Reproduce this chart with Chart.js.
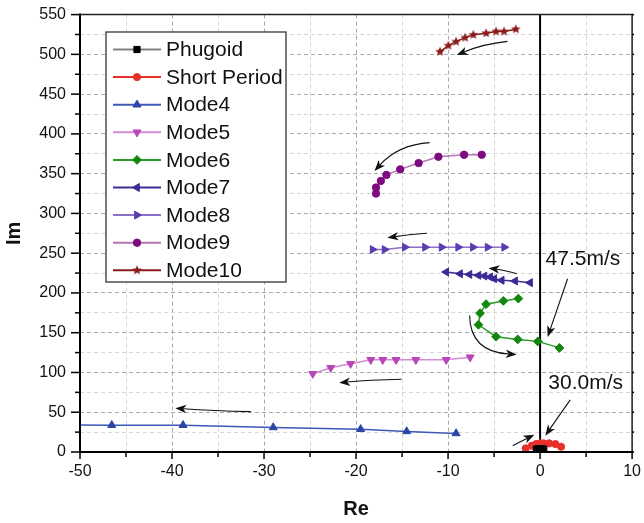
<!DOCTYPE html>
<html><head><meta charset="utf-8">
<script src="https://cdn.jsdelivr.net/npm/chart.js@4.4.1/dist/chart.umd.min.js"></script>
<style>html,body{margin:0;padding:0;background:#fff}canvas{display:block}</style>
</head><body>
<canvas id="c" width="644" height="523"></canvas>
<script>
// ---------- data ----------
const seriesLabels = ['Phugoid','Short Period','Mode4','Mode5','Mode6','Mode7','Mode8','Mode9','Mode10'];
const xTicks = [-50,-40,-30,-20,-10,0,10];
const yTicks = [0,50,100,150,200,250,300,350,400,450,500,550];

const phugoidRe = [-0.4,-0.2,0,0.2,0.4];
const phugoidIm = [3.5,4,4,4,3.5];
const shortRe = [-1.56,-0.9,-0.43,0,0.36,0.98,1.67,2.28];
const shortIm = [4.6,7.9,10,10.9,10.9,10.9,10,6.6];
const mode4Re = [-56,-46.55,-38.8,-29,-19.5,-14.5,-9.13];
const mode4Im = [34,33.75,33.75,30.9,28.75,25.9,23.4];
const mode5Re = [-24.7,-22.75,-20.6,-18.4,-17.1,-15.65,-13.5,-10.2,-7.6];
const mode5Im = [98.4,105.9,110.9,115.9,115.9,115.9,115.9,115.9,119.1];
const mode6Re = [-2.36,-3.99,-5.87,-6.52,-6.7,-4.78,-2.43,-0.25,2.1];
const mode6Im = [192.9,190,185.9,174.6,160,145,141.6,139.1,130.9];
const mode7Re = [-10.2,-8.7,-7.68,-6.7,-6.05,-5.43,-4.97,-4.17,-2.72,-1.09];
const mode7Im = [226.25,224.1,223.3,222.1,221.25,220,217.9,215.9,215,212.9];
const mode8Re = [-18.2,-16.9,-14.7,-12.5,-10.7,-8.9,-7.3,-5.7,-3.9];
const mode8Im = [254.6,254.6,257.5,257.5,257.5,257.5,257.5,257.5,257.5];
const mode9Re = [-17.83,-17.83,-17.3,-16.7,-15.2,-13.2,-11.05,-8.26,-6.34];
const mode9Im = [325,332.5,340.9,348.4,355.4,363.3,371.25,373.75,373.75];
const mode10Re = [-10.87,-9.97,-9.13,-8.15,-7.25,-5.87,-4.78,-3.91,-2.64];
const mode10Im = [503.4,511,516,521,524.6,526.6,528.75,528.75,531.6];

// annotation arrows (data units): tail x,y, control x,y, head x,y
const arrows = [
  [-3.55,516.3, -6.2,513, -9.06,499.1],
  [-12.0,389, -15.4,386.5, -18.0,353.4],
  [-12.3,275, -14.4,273, -16.6,269.5],
  [-2.53,224.1, -4.0,229, -5.6,230.9],
  [-7.66,171.8, -7.6,126, -2.54,122.7],
  [-15.07,91.4, -18.5,90.5, -21.83,87.1],
  [-31.43,50.8, -35.5,51.5, -39.64,55.1],
  [2.99,217.8, 1.9,181, 0.82,144.7],
  [3.28,65.5, 1.9,43, 0.57,20.4],
  [-2.97,7.9, -1.8,15, -0.62,21.7]
];
const speedLabels = [['47.5m/s',0.6,242],['30.0m/s',0.9,86.5]];

// ---------- styles ----------
function starImage(r, color){
  const c = document.createElement('canvas');
  c.width = c.height = Math.ceil(2*r+2);
  const g = c.getContext('2d');
  const cx = c.width/2, cy = c.height/2;
  g.beginPath();
  for (let i=0;i<10;i++){
    const rr = i%2===0 ? r : r*0.45;
    const a = -Math.PI/2 + i*Math.PI/5;
    const px = cx + rr*Math.cos(a), py = cy + rr*Math.sin(a);
    if (i===0) g.moveTo(px,py); else g.lineTo(px,py);
  }
  g.closePath(); g.fillStyle = color; g.fill();
  return c;
}
const styles = [
  {line:'#808080', mark:'#000000', ps:'rect', rot:0, r:4.4},
  {line:'#e8302a', mark:'#e8302a', ps:'circle', rot:0, r:3.6},
  {line:'#3d58b6', mark:'#2c45a8', ps:'triangle', rot:0, r:4.6},
  {line:'#d58ad5', mark:'#b847b8', ps:'triangle', rot:180, r:4.6},
  {line:'#2a9a2a', mark:'#12860f', ps:'rectRot', rot:0, r:4.4},
  {line:'#3c2f98', mark:'#3a2a95', ps:'triangle', rot:270, r:4.6},
  {line:'#8a70c8', mark:'#5a3db0', ps:'triangle', rot:90, r:4.6},
  {line:'#b474b4', mark:'#7e0a80', ps:'circle', rot:0, r:3.7},
  {line:'#8b1a1a', mark:'#8b1a1a', ps:starImage(5,'#8b1a1a'), rot:0, r:5}
];
const seriesRe = [phugoidRe,shortRe,mode4Re,mode5Re,mode6Re,mode7Re,mode8Re,mode9Re,mode10Re];
const seriesIm = [phugoidIm,shortIm,mode4Im,mode5Im,mode6Im,mode7Im,mode8Im,mode9Im,mode10Im];

const datasets = seriesLabels.map((lab,i)=>({
  label: lab,
  data: seriesRe[i].map((x,j)=>({x:x, y:seriesIm[i][j]})),
  showLine: true,
  borderColor: styles[i].line,
  borderWidth: 1.5,
  backgroundColor: styles[i].mark,
  pointBackgroundColor: styles[i].mark,
  pointBorderColor: styles[i].mark,
  pointBorderWidth: 1,
  pointStyle: styles[i].ps,
  pointRotation: styles[i].rot,
  pointRadius: styles[i].r,
  pointHoverRadius: styles[i].r,
  tension: 0
}));

const FONT = '"Liberation Sans", Arial, Helvetica, sans-serif';

// ---------- plugin ----------
const overlay = {
  id: 'overlay',
  beforeDatasetsDraw(chart){
    const {ctx, chartArea:a, scales:{x,y}} = chart;
    ctx.save();
    ctx.strokeStyle = '#000'; ctx.lineWidth = 2;
    const x0 = x.getPixelForValue(0);
    ctx.beginPath(); ctx.moveTo(x0, a.bottom); ctx.lineTo(x0, a.top); ctx.stroke();
    ctx.restore();
  },
  afterDatasetsDraw(chart){
    const {ctx, chartArea:a, scales:{x,y}} = chart;
    ctx.save();
    // frame
    ctx.strokeStyle = '#222'; ctx.lineWidth = 1.5;
    ctx.beginPath(); ctx.moveTo(a.left, a.top); ctx.lineTo(a.right, a.top); ctx.lineTo(a.right, a.bottom); ctx.stroke();
    ctx.strokeStyle = '#000'; ctx.lineWidth = 2;
    ctx.beginPath(); ctx.moveTo(a.left, a.top-1); ctx.lineTo(a.left, a.bottom); ctx.lineTo(a.right+1, a.bottom); ctx.stroke();
    // ticks
    ctx.lineWidth = 1.5; ctx.strokeStyle = '#000';
    for (let v=0; v<=550; v+=25){
      const py = y.getPixelForValue(v);
      const len = v%50===0 ? 9 : 5;
      ctx.beginPath(); ctx.moveTo(a.left, py); ctx.lineTo(a.left-len, py); ctx.stroke();
      ctx.beginPath(); ctx.moveTo(a.right, py); ctx.lineTo(a.right+2, py); ctx.stroke();
    }
    for (let v=-50; v<=10; v+=5){
      const px = x.getPixelForValue(v);
      const len = v%10===0 ? 7 : 5;
      ctx.beginPath(); ctx.moveTo(px, a.bottom); ctx.lineTo(px, a.bottom+len); ctx.stroke();
    }
    // arrows
    ctx.strokeStyle = '#111'; ctx.fillStyle = '#111'; ctx.lineWidth = 1.1;
    arrows.forEach(ar=>{
      const p0 = [x.getPixelForValue(ar[0]), y.getPixelForValue(ar[1])];
      const pc = [x.getPixelForValue(ar[2]), y.getPixelForValue(ar[3])];
      const p1 = [x.getPixelForValue(ar[4]), y.getPixelForValue(ar[5])];
      const ang = Math.atan2(p1[1]-pc[1], p1[0]-pc[0]);
      const L = 11, W = 4.2, N = 8;
      const bx = p1[0]-Math.cos(ang)*N, by = p1[1]-Math.sin(ang)*N;
      ctx.beginPath(); ctx.moveTo(p0[0],p0[1]); ctx.quadraticCurveTo(pc[0],pc[1],bx,by); ctx.stroke();
      const cx = p1[0]-Math.cos(ang)*L, cy = p1[1]-Math.sin(ang)*L;
      ctx.beginPath();
      ctx.moveTo(p1[0],p1[1]);
      ctx.lineTo(cx - Math.sin(ang)*W, cy + Math.cos(ang)*W);
      ctx.lineTo(bx, by);
      ctx.lineTo(cx + Math.sin(ang)*W, cy - Math.cos(ang)*W);
      ctx.closePath(); ctx.fill();
    });
    // speed labels
    ctx.fillStyle = '#111'; ctx.font = '21px ' + FONT; ctx.textBaseline = 'middle'; ctx.textAlign = 'left';
    speedLabels.forEach(s=>{ ctx.fillText(s[0], x.getPixelForValue(s[1]), y.getPixelForValue(s[2])); });
    // legend
    const lx = 106, ly = 32, lw = 180, lh = 250;
    ctx.fillStyle = '#fff'; ctx.fillRect(lx, ly, lw, lh);
    ctx.strokeStyle = '#333'; ctx.lineWidth = 1.3; ctx.strokeRect(lx, ly, lw, lh);
    ctx.font = '21px ' + FONT;
    chart.data.datasets.forEach((ds,i)=>{
      const cy = 49.5 + i*27.6;
      ctx.strokeStyle = ds.borderColor; ctx.lineWidth = 2;
      ctx.beginPath(); ctx.moveTo(113, cy); ctx.lineTo(161, cy); ctx.stroke();
      ctx.fillStyle = ds.pointBackgroundColor; ctx.strokeStyle = ds.pointBorderColor; ctx.lineWidth = 1;
      Chart.helpers.drawPoint(ctx, {pointStyle: ds.pointStyle, rotation: ds.pointRotation, radius: ds.pointRadius, borderWidth: 1}, 137, cy);
      ctx.fillStyle = '#111'; ctx.textBaseline = 'middle';
      ctx.fillText(ds.label, 166, cy+1);
    });
    ctx.restore();
  }
};

new Chart(document.getElementById('c'), {
  type: 'scatter',
  data: {datasets},
  plugins: [overlay],
  options: {
    responsive: false,
    animation: false,
    devicePixelRatio: 1,
    layout: {padding: {left: 0, top: 13, right: 11, bottom: 0}},
    plugins: {legend: {display: false}, tooltip: {enabled: false}},
    scales: {
      x: {
        type: 'linear', min: -50, max: 10,
        afterBuildTicks: s => { const t=[]; for (let v=-50; v<=10; v+=5) t.push({value:v}); s.ticks = t; },
        afterFit: s => { s.height = 71; },
        ticks: {autoSkip: false, maxRotation: 0, padding: 3, color: '#111', font: {size: 16, family: FONT},
          callback: v => xTicks.includes(v) ? String(v) : ''},
        grid: {color: c => (c.tick && c.tick.value%10===0) ? '#a9a9a9' : '#d6d6d6', lineWidth: 1,
          tickLength: 7, tickColor: 'rgba(0,0,0,0)'},
        border: {display: false, dash: [4,3]},
        title: {display: true, text: 'Re', color: '#111', font: {size: 20, weight: 'bold', family: FONT}, padding: {top: 0, bottom: 2}}
      },
      y: {
        type: 'linear', min: 0, max: 550,
        afterBuildTicks: s => { const t=[]; for (let v=0; v<=550; v+=25) t.push({value:v}); s.ticks = t; },
        afterFit: s => { s.width = 80; },
        ticks: {autoSkip: false, padding: 5, color: '#111', font: {size: 16, family: FONT},
          callback: v => yTicks.includes(v) ? String(v) : ''},
        grid: {color: c => (c.tick && c.tick.value%50===0) ? '#a9a9a9' : '#d6d6d6', lineWidth: 1,
          tickLength: 9, tickColor: 'rgba(0,0,0,0)'},
        border: {display: false, dash: [4,3]},
        title: {display: true, text: 'Im', color: '#111', font: {size: 20, weight: 'bold', family: FONT}, padding: {top: 2, bottom: 0}}
      }
    }
  }
});
</script>
</body></html>
